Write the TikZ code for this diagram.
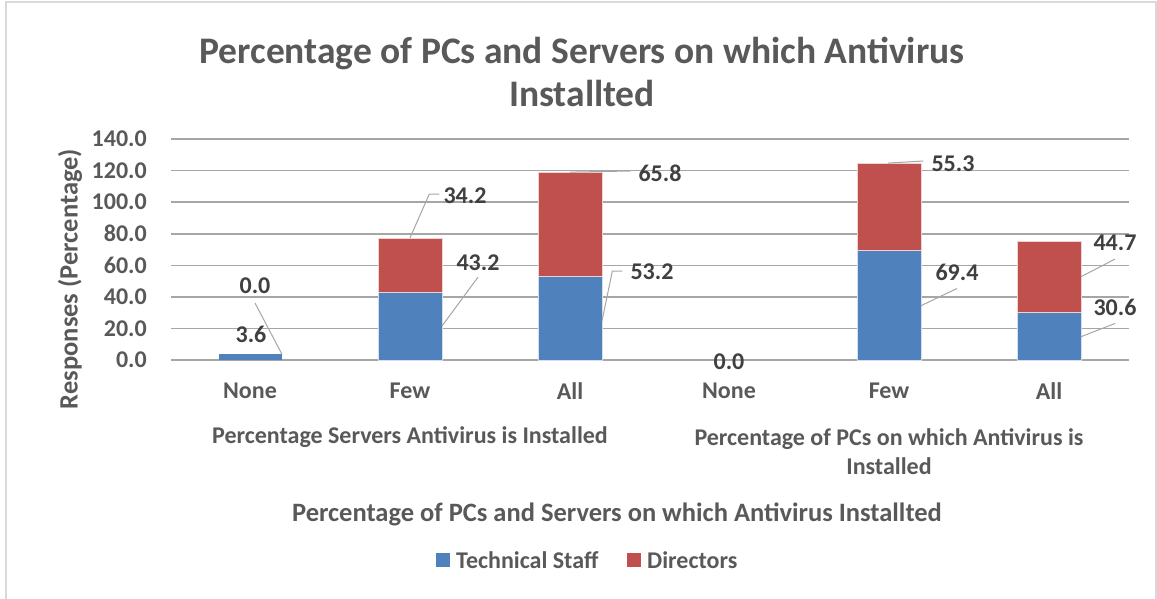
\documentclass[tikz,border=0pt]{standalone}
\usepackage{fontspec}
\setmainfont{Carlito}
\definecolor{techblue}{HTML}{4F81BD}
\definecolor{dirred}{HTML}{C0504D}
\definecolor{labelgray}{HTML}{595959}
\definecolor{valgray}{HTML}{404040}
\definecolor{gridgray}{HTML}{A6A6A6}
\definecolor{leadgray}{HTML}{A6A6A6}
\definecolor{framegray}{HTML}{D9D9D9}
\begin{document}
\begin{tikzpicture}[x=1pt,y=-1pt,
  axislbl/.style={font=\bfseries\fontsize{24}{29}\selectfont, text=labelgray, inner sep=0pt, align=center},
  axtitle/.style={font=\bfseries\fontsize{26.5}{30}\selectfont, text=labelgray, inner sep=0pt},
  titlelbl/.style={font=\bfseries\fontsize{37.5}{43}\selectfont, text=labelgray, inner sep=0pt, align=center},
  vallbl/.style={font=\bfseries\fontsize{24}{28}\selectfont, text=valgray, inner sep=0pt},
  gridline/.style={draw=gridgray, line width=1.6pt},
  techbar/.style={fill=techblue, draw=white!75!techblue, line width=0.4pt},
  dirbar/.style={fill=dirred, draw=white!75!dirred, line width=0.4pt},
  leader/.style={draw=leadgray, line width=1pt},
  swatch/.style={minimum width=14pt, minimum height=14pt, inner sep=0pt}]

\useasboundingbox (0,0) rectangle (1157,598);
\fill[white] (0,0) rectangle (1157,598);

% chart frame
\draw[framegray, line width=2pt] (6,600) -- (6,2) -- (1156,2) -- (1156,600);

% title
\node[titlelbl] (title) at (582,71.5) {Percentage of PCs and Servers on which Antivirus\\Installted};

% horizontal gridlines and value axis
\foreach \v/\yy in {0/360,20/328.4,40/296.9,60/265.3,80/233.7,100/202.1,120/170.6,140/139}{
  \draw[gridline] (171,\yy) -- (1129,\yy);
  \node[axislbl, anchor=east] (tick\v) at (147,\yy) {\v.0};
}
\node[axtitle, rotate=90] (ytitle) at (70,279) {Responses (Percentage)};

% stacked bars: Technical Staff (bottom) and Directors (top)
\fill[techblue] (218.5,360) rectangle (282,354.3);
\coordinate (s1dir) at (282,354.3);

\fill[techbar] (378.5,360) rectangle (442,291.8);
\fill[dirbar]  (378.5,291.8) rectangle (442,237.8);
\coordinate (s2tech) at (442,326);
\coordinate (s2dir) at (410,237.8);

\fill[techbar] (538.5,360) rectangle (602,276.0);
\fill[dirbar]  (538.5,276.0) rectangle (602,172.1);
\coordinate (s3tech) at (602,321);
\coordinate (s3dir) at (570,172.1);

\fill[techbar] (857.5,360) rectangle (921,250.4);
\fill[dirbar]  (857.5,250.4) rectangle (921,163.1);
\coordinate (p2tech) at (921,305.7);
\coordinate (p2dir) at (888,163.1);

\fill[techbar] (1017.5,360) rectangle (1081,311.7);
\fill[dirbar]  (1017.5,311.7) rectangle (1081,241.1);
\coordinate (p3tech) at (1081,336.7);
\coordinate (p3dir) at (1081,276.7);

% data labels with leader lines
\node[vallbl] (l1dir) at (255,286) {0.0};
\node[vallbl] (l1tech) at (251,334) {3.6};
\draw[leader] (255,303) -- (s1dir);

\node[vallbl] (l2tech) at (478,263) {43.2};
\draw[leader] (l2tech.south) ++(0,6) -- (s2tech);
\node[vallbl] (l2dir) at (465,196) {34.2};
\draw[leader] (l2dir.west) ++(-4,-2) -- ++(-10,0) -- (s2dir);

\node[vallbl] (l3dir) at (660,173) {65.8};
\draw[leader] (l3dir.west) ++(-8,-2) -- (s3dir);
\node[vallbl] (l3tech) at (652,272) {53.2};
\draw[leader] (l3tech.west) ++(-8,-1) -- ++(-10,0) -- (s3tech);

\node[vallbl] (l4) at (729,362) {0.0};

\node[vallbl] (l5dir) at (953,164) {55.3};
\draw[leader] (l5dir.west) ++(-8,-3) -- (p2dir);
\node[vallbl] (l5tech) at (957,272) {69.4};
\draw[leader] (l5tech.south) ++(0,8) -- (p2tech);

\node[vallbl] (l6dir) at (1115,243) {44.7};
\draw[leader] (l6dir.south) ++(0,8) -- (p3dir);
\node[vallbl] (l6tech) at (1115,307) {30.6};
\draw[leader] (l6tech.south) ++(0,8) -- (p3tech);

% category labels
\foreach \x/\c/\n in {250/None/c1,410/Few/c2,570/All/c3,729/None/c4,889/Few/c5,1049/All/c6}{
  \node[axislbl] (\n) at (\x,391) {\c};
}
\node[axislbl] (g1) at (410,437) {Percentage Servers Antivirus is Installed};
\node[axislbl] (g2) at (889,451.5) {Percentage of PCs on which Antivirus is\\Installed};

% horizontal axis title
\node[axtitle] (xtitle) at (617,514) {Percentage of PCs and Servers on which Antivirus Installted};

% legend
\node[swatch, fill=techblue] (sw1) at (443,560) {};
\node[axislbl, anchor=west] (lg1) at (456,560) {Technical Staff};
\node[swatch, fill=dirred] (sw2) at (634,560) {};
\node[axislbl, anchor=west] (lg2) at (647,560) {Directors};
\end{tikzpicture}
\end{document}
